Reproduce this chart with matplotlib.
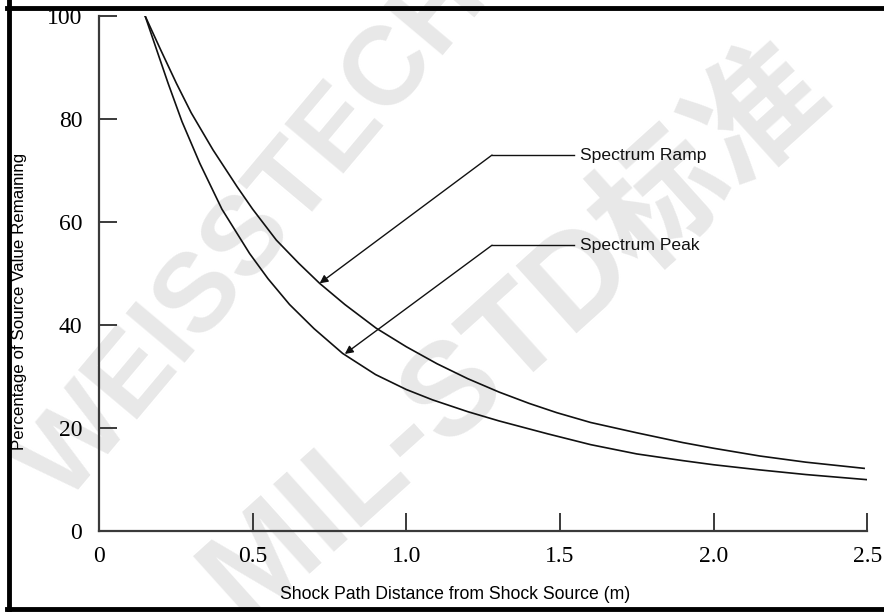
import matplotlib
matplotlib.use("Agg")
import matplotlib.pyplot as plt
from matplotlib.lines import Line2D

# attenuation of shock spectrum along the path from the source
dist_ramp = [0.15, 0.20, 0.252, 0.30, 0.371, 0.45, 0.50, 0.577, 0.65, 0.718, 0.80, 0.902,
             1.00, 1.10, 1.20, 1.302, 1.40, 1.49, 1.60, 1.75, 1.90, 2.00, 2.15, 2.30, 2.49]
pct_ramp = [100, 93.5, 86.9, 81.2, 74.0, 66.8, 62.5, 56.5, 52.0, 48.1, 44.0, 39.4,
            35.8, 32.5, 29.6, 27.0, 24.8, 23.0, 21.1, 19.1, 17.2, 16.1, 14.6, 13.4, 12.2]

dist_peak = [0.15, 0.19, 0.225, 0.27, 0.328, 0.40, 0.49, 0.55, 0.62, 0.70, 0.793, 0.90,
             1.00, 1.085, 1.20, 1.302, 1.46, 1.60, 1.75, 1.90, 2.00, 2.15, 2.30, 2.50]
pct_peak = [100, 93.0, 86.9, 79.5, 71.4, 62.5, 53.9, 49.0, 44.0, 39.3, 34.5, 30.4,
            27.5, 25.5, 23.2, 21.4, 18.9, 16.8, 15.0, 13.7, 12.9, 11.9, 11.0, 10.0]

x_ticks = [0, 0.5, 1.0, 1.5, 2.0, 2.5]
x_ticklabels = ["0", "0.5", "1.0", "1.5", "2.0", "2.5"]
y_ticks = [0, 20, 40, 60, 80, 100]

ramp_label = "Spectrum Ramp"
peak_label = "Spectrum Peak"
# (arrow tip on the curve, elbow of the leader, text anchor)
ramp_leader = [(0.718, 48.1), (1.279, 73.0), (1.545, 73.0)]
peak_leader = [(0.800, 34.4), (1.279, 55.5), (1.545, 55.5)]

serif = "Liberation Serif"
sans = "Liberation Sans"
axis_col = "#3a3a3a"
ink = "#111111"

fig = plt.figure(figsize=(8.84, 6.12), dpi=100)

# faint diagonal watermark behind the plot
fig.text(0.29, 0.62, "WEISSTECH", fontsize=80, fontweight="bold", color="#e8e8e8",
         family=[sans], rotation=50, ha="center", va="center", zorder=0)
fig.text(0.583, 0.455, "MIL-STD标准", fontsize=94, fontweight="bold", color="#e8e8e8",
         family=[sans, "Noto Sans CJK SC"], rotation=42, ha="center", va="center", zorder=0)

ax = fig.add_axes([0.112, 0.132, 0.869, 0.842])
ax.set_zorder(1)
ax.patch.set_visible(False)

ax.plot(dist_ramp, pct_ramp, color=ink, lw=1.2)
ax.plot(dist_peak, pct_peak, color=ink, lw=1.2)

for leader, label in [(ramp_leader, ramp_label), (peak_leader, peak_label)]:
    tip, elbow, start = leader
    ax.plot([start[0], elbow[0]], [start[1], elbow[1]], color=ink, lw=1.0)
    ax.annotate("", xy=tip, xytext=elbow,
                arrowprops=dict(arrowstyle="-|>", color=ink, lw=1.0,
                                mutation_scale=12, shrinkA=0, shrinkB=0))
    ax.text(start[0] + 0.02, start[1], label, family=[sans], fontsize=12.6,
            ha="left", va="center", color=ink)

ax.set_xlim(0, 2.5)
ax.set_ylim(0, 100)
ax.spines["top"].set_visible(False)
ax.spines["right"].set_visible(False)
for s in ["left", "bottom"]:
    ax.spines[s].set_color(axis_col)
    ax.spines[s].set_linewidth(1.6)

ax.set_xticks(x_ticks)
ax.set_xticklabels(x_ticklabels)
ax.set_yticks(y_ticks)
ax.tick_params(direction="in", length=13, width=1.4, color=axis_col,
               labelsize=17, labelfontfamily=serif)
ax.tick_params(axis="x", pad=11)
ax.tick_params(axis="y", pad=12)

fig.text(0.515, 0.028, "Shock Path Distance from Shock Source (m)", family=sans,
         fontsize=12.7, ha="center", va="center")
fig.text(0.022, 0.507, "Percentage of Source Value Remaining", family=sans,
         fontsize=12.2, rotation=90, ha="center", va="center")

# heavy frame on the left, top and bottom edges
fw = 3.5
for xs, ys in [([0.0099, 0.0099], [0.0, 1.0]),
               ([0.008, 1.0], [0.9877, 0.9877]),
               ([0.008, 1.0], [0.0043, 0.0043])]:
    fig.add_artist(Line2D(xs, ys, color="black", lw=fw, transform=fig.transFigure,
                          zorder=5))

fig.savefig("out.png", dpi=100)
